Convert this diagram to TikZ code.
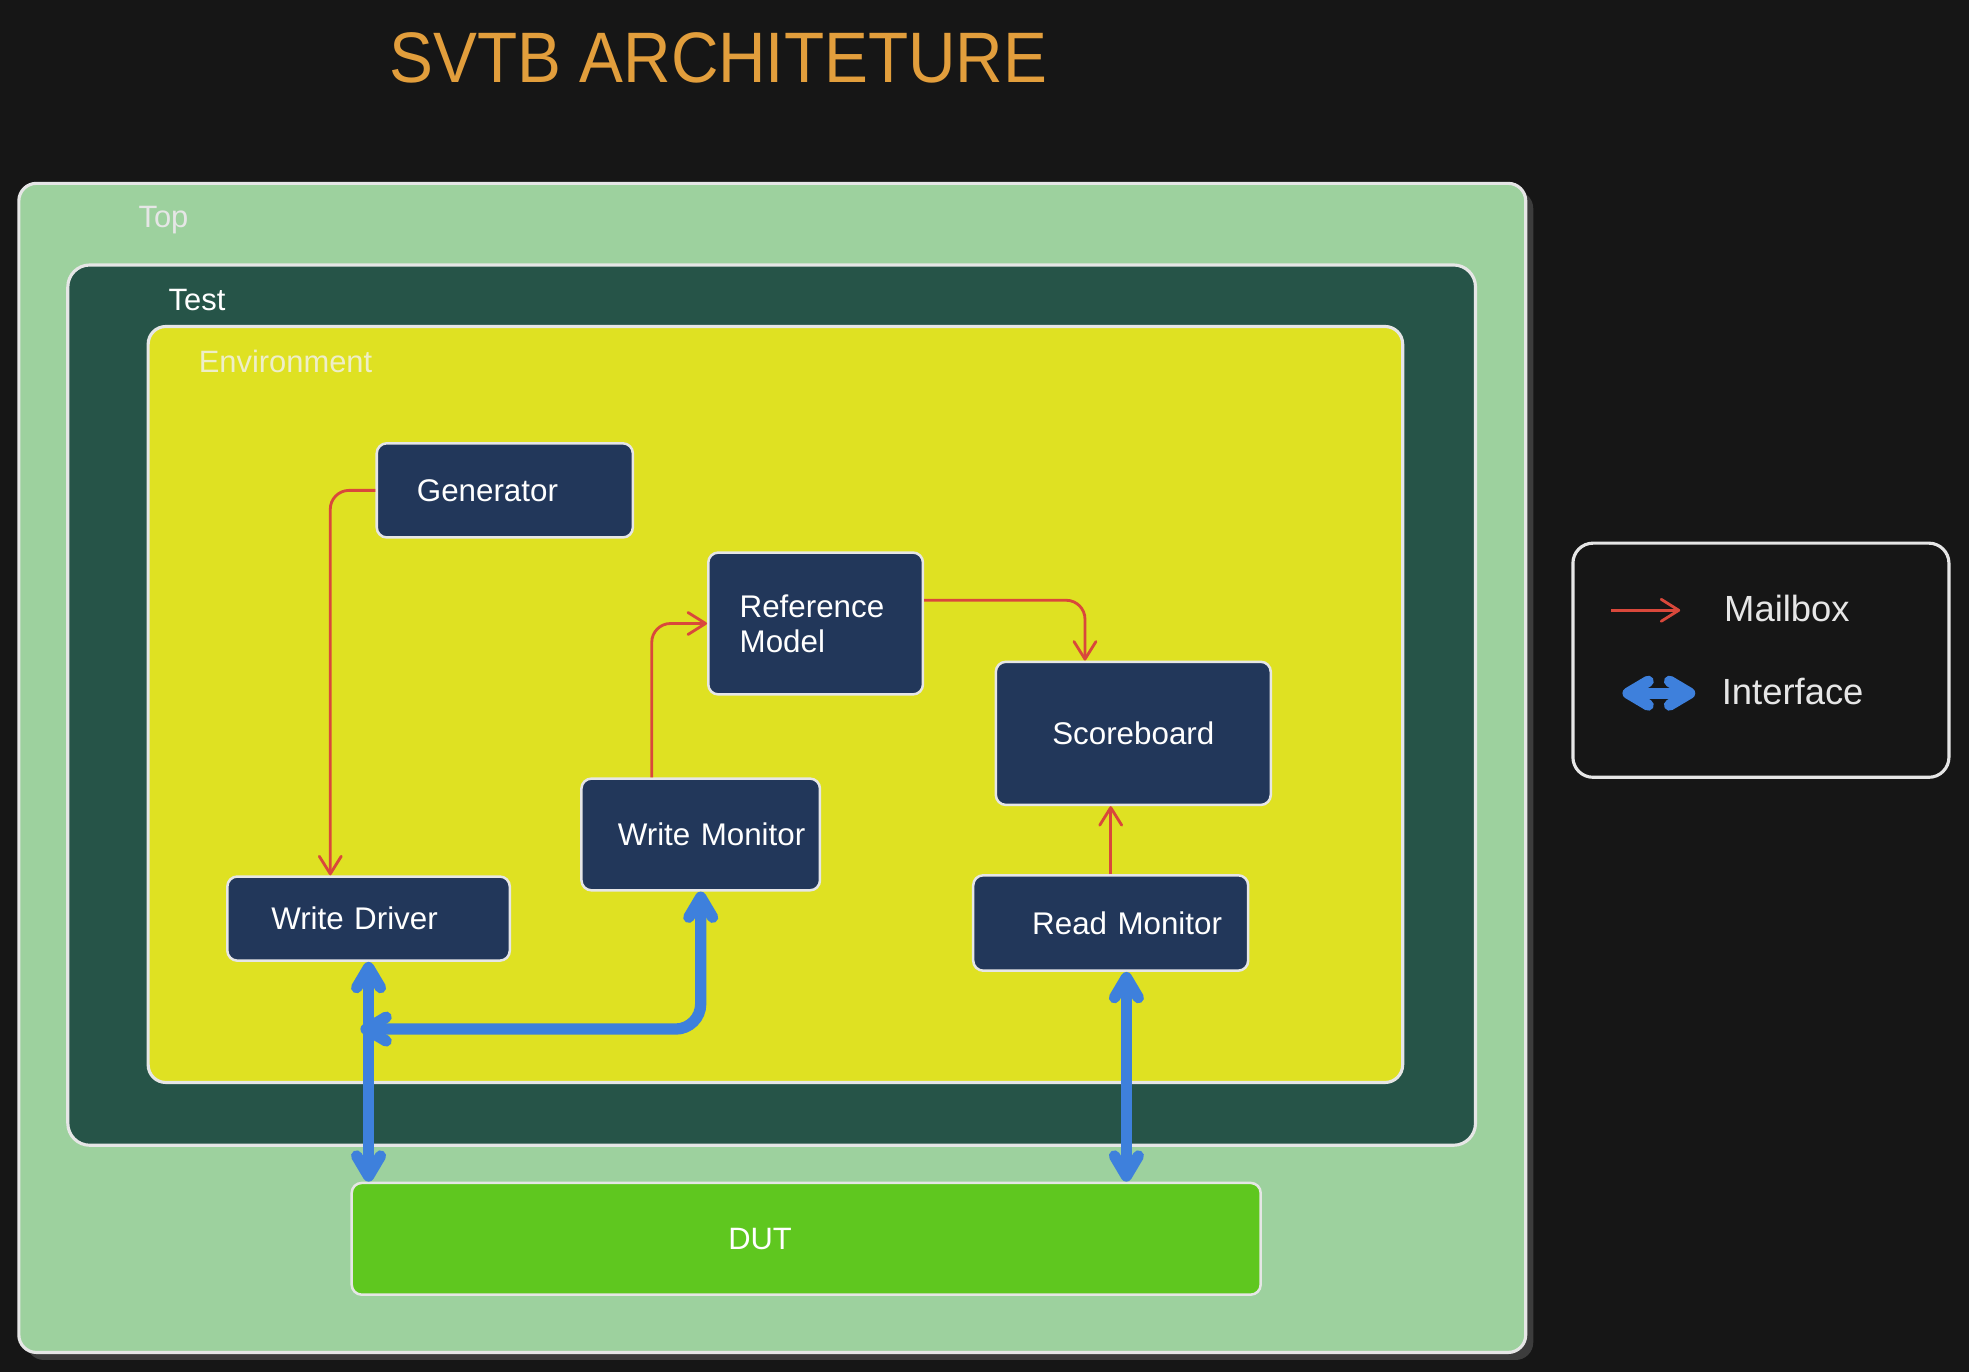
\documentclass[tikz,border=0pt]{standalone}
\usepackage{fontspec}
\setmainfont{Liberation Sans}
\usepackage{xcolor}
\usetikzlibrary{arrows.meta}

\definecolor{bg}{HTML}{161616}
\definecolor{shadowgrey}{HTML}{3C3C3C}
\definecolor{topgreen}{HTML}{9DD19E}
\definecolor{testgreen}{HTML}{265448}
\definecolor{envyellow}{HTML}{DFE122}
\definecolor{navy}{HTML}{22375A}
\definecolor{dutgreen}{HTML}{5FC71F}
\definecolor{edge}{HTML}{E6E6E6}
\definecolor{mred}{HTML}{D9483B}
\definecolor{iblue}{HTML}{3E80DC}
\definecolor{titleorange}{HTML}{E29E3C}
\definecolor{envtext}{HTML}{EEEEC8}

\tikzset{
  blk/.style={draw=edge, fill=navy, line width=0.04cm, rounded corners=0.16cm,
    text=white, align=left, font=\fontsize{14.2}{16}\selectfont},
  lbl/.style={anchor=base west, inner sep=0pt, font=\fontsize{14}{16}\selectfont},
  mbox/.style={draw=mred, line width=0.045cm, rounded corners=0.3cm,
    -{Straight Barb[length=0.28cm,width=0.35cm,round]}},
  iface/.style={draw=iblue, line width=0.18cm, rounded corners=0.4cm,
    {Straight Barb[length=0.32cm,width=0.38cm,round]}-{Straight Barb[length=0.32cm,width=0.38cm,round]}}
}

\begin{document}
\begin{tikzpicture}[x=0.02cm,y=-0.02cm]
\useasboundingbox (0,0) rectangle (1568,1091.8);
\fill[bg] (-5,-5) rectangle (1573,1097);

% title
\node[anchor=base west, inner sep=0pt, text=titleorange, xscale=0.92,
  font=\fontsize{32.4}{36}\selectfont] (title) at (310,66) {SVTB ARCHITETURE};

% nested containers
\fill[shadowgrey, rounded corners=0.28cm] (21,152) rectangle (1221,1083);
\filldraw[fill=topgreen, draw=edge, line width=0.05cm, rounded corners=0.28cm] (15,146) rectangle (1215,1077);
\filldraw[fill=testgreen, draw=edge, line width=0.05cm, rounded corners=0.35cm] (54,211) rectangle (1175,912);
\filldraw[fill=envyellow, draw=edge, line width=0.05cm, rounded corners=0.28cm] (118,260) rectangle (1117,862);
\node[lbl, text=edge] (toplbl) at (110,181) {Top};
\node[lbl, text=white] (testlbl) at (134,247) {Test};
\node[lbl, text=envtext] (envlbl) at (158,297) {Environment};

% components
\node[blk, text width=2.8cm, inner xsep=0.64cm, minimum height=1.5cm] (gen) at (402,390.5) {Generator};
\node[blk, text width=2.42cm, inner xsep=0.5cm, minimum height=2.26cm] (refm) at (649.5,496.5) {Reference\\Model};
\node[blk, minimum width=4.38cm, minimum height=2.28cm] (scb) at (902.5,584) {Scoreboard};
\node[blk, text width=2.64cm, inner xsep=0.58cm, minimum height=1.78cm] (wmon) at (558,664.5) {\mbox{Write Monitor}};
\node[blk, text width=3.1cm, inner xsep=0.7cm, minimum height=1.34cm] (wdrv) at (293.5,731.5) {Write Driver};
\node[blk, text width=2.5cm, inner xsep=0.94cm, minimum height=1.52cm] (rmon) at (884.5,735) {\mbox{Read Monitor}};
\node[blk, fill=dutgreen, text width=2.48cm, inner xsep=6cm, minimum height=1.78cm,
  font=\fontsize{14}{16}\selectfont] (dut) at (642,986.5) {DUT};

% mailboxes
\draw[mbox] (gen.west) -| ([xshift=-0.61cm]wdrv.north);
\draw[mbox] ([xshift=-0.78cm]wmon.north) |- (refm.west);
\draw[mbox] ([yshift=0.37cm]refm.east) -| ([xshift=-0.77cm]scb.north);
\draw[mbox] (rmon.north) -- (rmon.north |- scb.south);

% interfaces
\coordinate (tap) at ([xshift=-0.13cm,yshift=-1.07cm]wdrv.south);
\draw[iface] (wdrv.south) -- (wdrv.south |- dut.north);
\draw[iface] (wmon.south) |- (tap);
\draw[iface] ([xshift=0.25cm]rmon.south) -- ([xshift=0.25cm]rmon.south |- dut.north);

% legend
\node[draw=edge, fill=bg, line width=0.05cm, rounded corners=0.32cm,
  minimum width=5.99cm, minimum height=3.73cm] (legend) at (1402.3,525.75) {};
\coordinate (mbl) at (1283,486);
\coordinate (mbr) at (1338,486);
\draw[mbox] (mbl) -- (mbr);
\node[lbl, text=edge, font=\fontsize{16.5}{18}\selectfont] (mblbl) at (1372.7,495) {Mailbox};
\coordinate (ifl) at (1292,552);
\coordinate (ifr) at (1350,552);
\draw[iface] (ifl) -- (ifr);
\node[lbl, text=edge, font=\fontsize{16.5}{18}\selectfont] (iflbl) at (1370.8,561) {Interface};
\end{tikzpicture}
\end{document}
